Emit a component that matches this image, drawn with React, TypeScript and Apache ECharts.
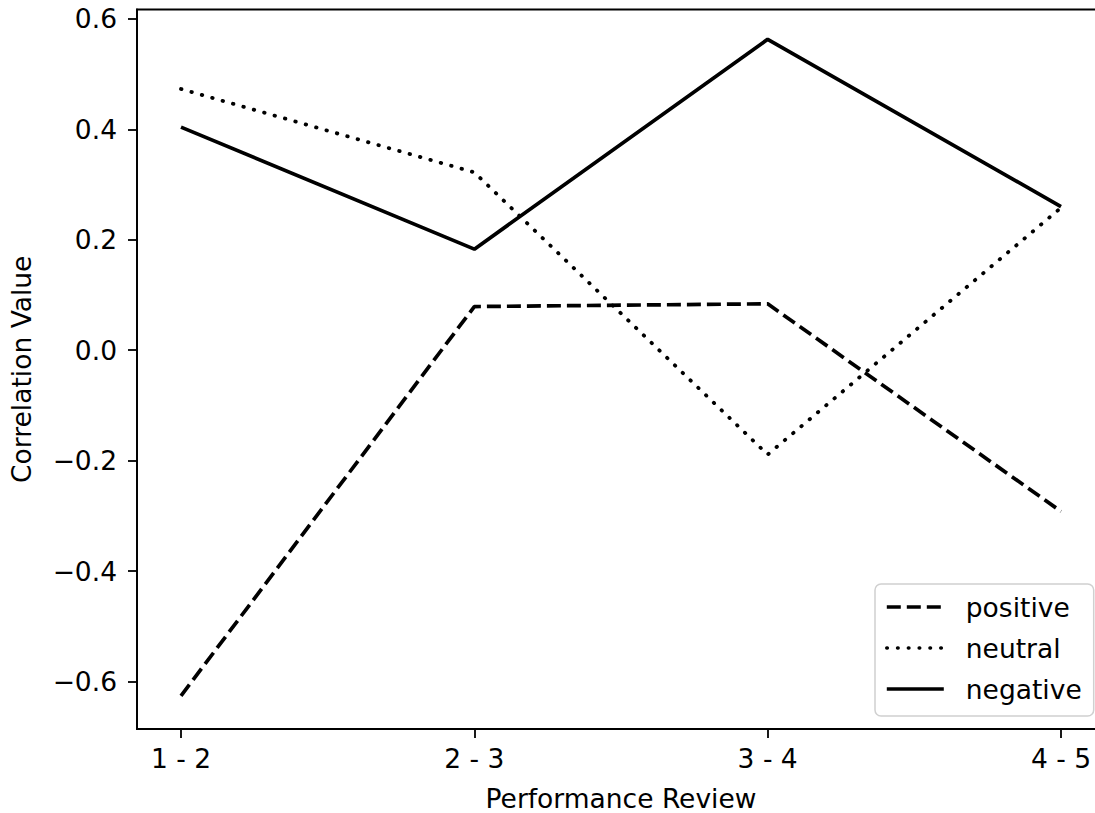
import React, { useEffect, useRef } from "react";
import * as echarts from "echarts";

const categories = ["1 - 2", "2 - 3", "3 - 4", "4 - 5"];
const positiveValues = [-0.626, 0.079, 0.084, -0.292];
const neutralValues = [0.473, 0.322, -0.189, 0.258];
const negativeValues = [0.404, 0.183, 0.563, 0.26];
const yTicks = [-0.6, -0.4, -0.2, 0, 0.2, 0.4, 0.6];
const xTicks = [0, 1, 2, 3];

const FONT = "DejaVu Sans";
const FS = 26.5;

export default function App() {
  const ref = useRef<HTMLDivElement>(null);
  useEffect(() => {
    if (!ref.current) return;
    const chart = echarts.init(ref.current, null, { renderer: "svg" });
    const toPairs = (arr: number[]) => arr.map((v, i) => [i, v]);
    chart.setOption({
      animation: false,
      backgroundColor: "#fff",
      grid: {
        left: 137,
        top: 9.5,
        bottom: 84,
        right: -10,
        show: true,
        borderColor: "#000",
        borderWidth: 1.8,
        outerBoundsMode: "none",
        containLabel: false,
      },
      xAxis: {
        type: "value",
        min: -0.15,
        max: 3.15,
        name: "Performance Review",
        nameLocation: "middle",
        nameGap: 56,
        nameTextStyle: { fontFamily: FONT, fontSize: FS, color: "#000" },
        axisLine: {
          show: true,
          onZero: false,
          lineStyle: { color: "#000", width: 1.8 },
        },
        axisTick: {
          show: true,
          length: 9,
          customValues: xTicks,
          lineStyle: { color: "#000", width: 1.8 },
        },
        axisLabel: {
          customValues: xTicks,
          margin: 16,
          fontFamily: FONT,
          fontSize: FS,
          color: "#000",
          formatter: (v: number) => categories[Math.round(v)] ?? "",
        },
        splitLine: { show: false },
      },
      yAxis: {
        type: "value",
        min: -0.686,
        max: 0.617,
        name: "Correlation Value",
        nameLocation: "middle",
        nameGap: 102,
        nameTextStyle: { fontFamily: FONT, fontSize: FS, color: "#000" },
        axisLine: {
          show: true,
          onZero: false,
          lineStyle: { color: "#000", width: 1.8 },
        },
        axisTick: {
          show: true,
          length: 9,
          customValues: yTicks,
          lineStyle: { color: "#000", width: 1.8 },
        },
        axisLabel: {
          customValues: yTicks,
          margin: 20,
          fontFamily: FONT,
          fontSize: FS,
          color: "#000",
          formatter: (v: number) =>
            (v < -1e-9 ? "\u2212" : "") + Math.abs(v).toFixed(1),
        },
        splitLine: { show: false },
      },
      legend: {
        orient: "vertical",
        left: 875,
        top: 584,
        padding: [8, 12, 12, 10],
        itemWidth: 57,
        itemHeight: 20,
        itemGap: 11,
        backgroundColor: "rgba(255,255,255,0.8)",
        borderColor: "#d0d0d0",
        borderWidth: 1.5,
        borderRadius: 6,
        itemStyle: { opacity: 0, borderWidth: 0 },
        lineStyle: { width: 3.6 },
        textStyle: {
          fontFamily: FONT,
          fontSize: FS,
          lineHeight: 30,
          color: "#000",
          padding: [0, 0, 0, 17],
        },
        data: ["positive", "neutral", "negative"],
      },
      series: [
        {
          name: "positive",
          type: "line",
          data: toPairs(positiveValues),
          symbol: "none",
          lineStyle: { color: "#000", width: 3.7, type: [14, 6] },
          itemStyle: { color: "#000" },
        },
        {
          name: "neutral",
          type: "line",
          data: toPairs(neutralValues),
          symbol: "none",
          lineStyle: {
            color: "#000",
            width: 3.8,
            type: [0.5, 10.3],
            cap: "round",
          },
          itemStyle: { color: "#000" },
        },
        {
          name: "negative",
          type: "line",
          data: toPairs(negativeValues),
          symbol: "none",
          lineStyle: { color: "#000", width: 3.7, type: "solid" },
          itemStyle: { color: "#000" },
        },
      ],
    });
    return () => chart.dispose();
  }, []);
  return (
    <div
      ref={ref}
      style={{ position: "fixed", left: 0, top: 0, width: 1095, height: 813 }}
    />
  );
}
